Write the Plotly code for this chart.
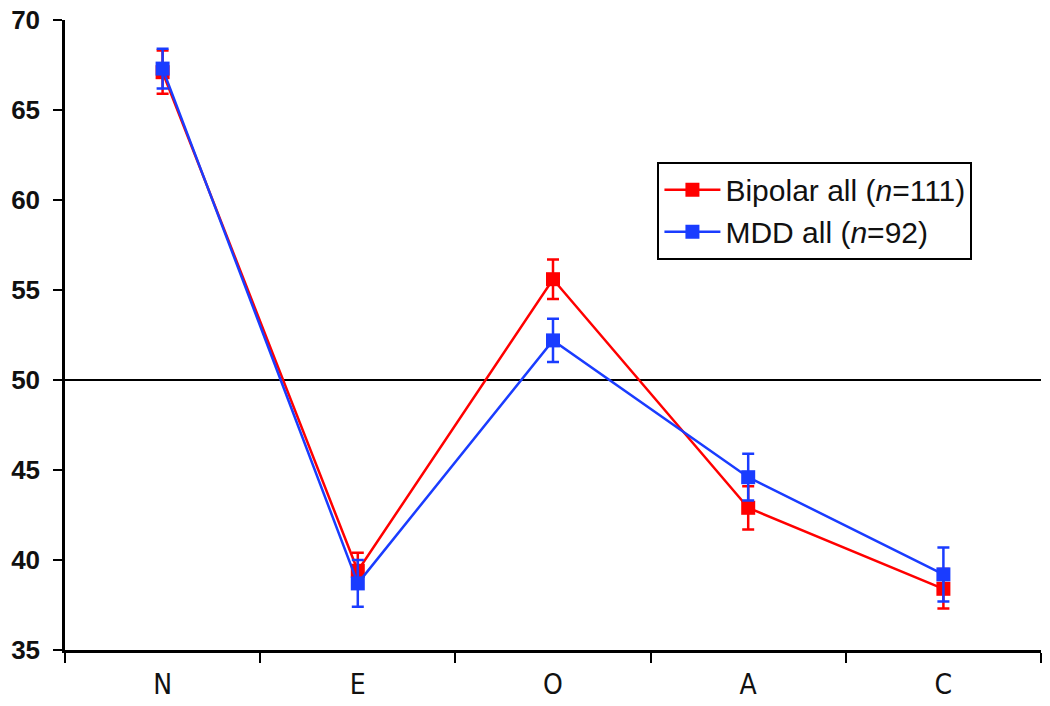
import plotly.graph_objects as go

categories = ["N", "E", "O", "A", "C"]
bipolar_mean = [67.1, 39.4, 55.6, 42.9, 38.4]
bipolar_err = [1.2, 1.0, 1.1, 1.2, 1.1]
mdd_mean = [67.3, 38.7, 52.2, 44.6, 39.2]
mdd_err = [1.1, 1.3, 1.2, 1.3, 1.5]
ref_value = 50
y_ticks = [35, 40, 45, 50, 55, 60, 65, 70]

RED = "#ff0000"
BLUE = "#1a3cff"

fig = go.Figure()
fig.add_trace(go.Scatter(
    x=categories, y=bipolar_mean, name="Bipolar all (<i>n</i>=111)",
    mode="lines+markers", legendgroup="b",
    line=dict(color=RED, width=2.5),
    marker=dict(symbol="square", size=14, color=RED),
    error_y=dict(type="data", array=bipolar_err, color=RED, thickness=2.5, width=6),
))
fig.add_trace(go.Scatter(
    x=categories, y=mdd_mean, name="MDD all (<i>n</i>=92)",
    mode="lines+markers", legendgroup="m",
    line=dict(color=BLUE, width=2.5),
    marker=dict(symbol="square", size=14, color=BLUE),
    error_y=dict(type="data", array=mdd_err, color=BLUE, thickness=2.5, width=6),
))

fig.add_shape(type="line", xref="paper", x0=0, x1=1, yref="y", y0=ref_value, y1=ref_value,
              line=dict(color="black", width=2), layer="below")

fig.update_layout(
    width=1050, height=706,
    paper_bgcolor="white", plot_bgcolor="white",
    margin=dict(l=65, r=9, t=20, b=56),
    font=dict(family="Liberation Sans, Arial, sans-serif", color="#111", size=20),
    showlegend=True,
    legend=dict(
        x=0.607, y=0.775, xanchor="left", yanchor="top",
        bordercolor="black", borderwidth=2, bgcolor="white",
        font=dict(size=30, family="Liberation Sans, Arial, sans-serif"),
        itemwidth=56, tracegroupgap=3, traceorder="normal",
    ),
    xaxis=dict(
        type="category", range=[-0.5, 4.5], automargin=False,
        tickson="boundaries", ticks="outside", ticklen=10, tickwidth=2, tickcolor="black",
        showline=True, linecolor="black", linewidth=2.5,
        showgrid=False, zeroline=False, ticklabelstandoff=8,
        tickfont=dict(family="Liberation Sans Narrow, DejaVu Sans Condensed, sans-serif", size=28),
    ),
    yaxis=dict(
        range=[35, 70], tickvals=y_ticks, automargin=False,
        ticks="outside", ticklen=9, tickwidth=2, tickcolor="black",
        showline=True, linecolor="black", linewidth=2.5,
        showgrid=False, zeroline=False, ticklabelstandoff=8,
        tickfont=dict(family="Liberation Sans, Arial, sans-serif", size=26, weight="bold"),
    ),
)

fig.write_html("out.html", config={"displayModeBar": False},
               post_script="document.body.style.margin='0';")
